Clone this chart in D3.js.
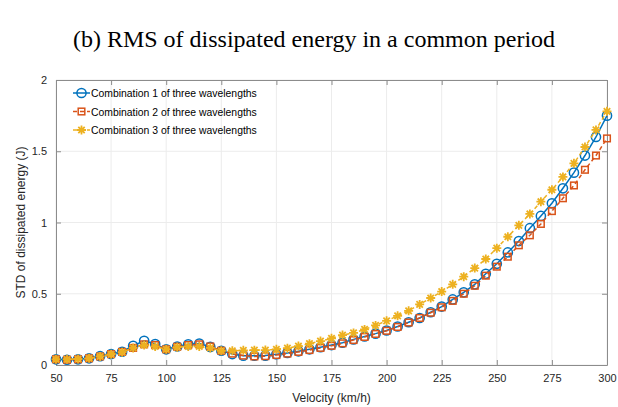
<!DOCTYPE html>
<html>
<head>
<meta charset="utf-8">
<script src="https://cdn.jsdelivr.net/npm/d3@7"></script>
<style>
  body { margin: 0; background: #fff; }
  text { font-family: "Liberation Sans", Arial, sans-serif; }
</style>
</head>
<body>
<div id="chart"></div>
<script>
// data
const velocity = [50, 55, 60, 65, 70, 75, 80, 85, 90, 95, 100, 105, 110, 115, 120, 125, 130, 135, 140, 145,
  150, 155, 160, 165, 170, 175, 180, 185, 190, 195, 200, 205, 210, 215, 220, 225, 230, 235, 240, 245,
  250, 255, 260, 265, 270, 275, 280, 285, 290, 295, 300];

const combo1 = [0.04, 0.037, 0.04, 0.047, 0.062, 0.077, 0.093, 0.135, 0.17, 0.147, 0.11, 0.13, 0.145, 0.15, 0.127,
  0.10, 0.077, 0.065, 0.065, 0.066, 0.075, 0.085, 0.096, 0.11, 0.125, 0.14, 0.156, 0.18, 0.2, 0.22,
  0.242, 0.27, 0.3, 0.33, 0.37, 0.41, 0.46, 0.51, 0.566, 0.64, 0.71, 0.79, 0.87, 0.96, 1.046,
  1.135, 1.24, 1.35, 1.47, 1.6, 1.75];

const combo2 = [0.04, 0.037, 0.04, 0.047, 0.06, 0.076, 0.092, 0.12, 0.145, 0.14, 0.11, 0.128, 0.14, 0.145, 0.13,
  0.10, 0.08, 0.066, 0.06, 0.062, 0.07, 0.08, 0.092, 0.105, 0.12, 0.135, 0.152, 0.175, 0.197, 0.218,
  0.24, 0.267, 0.298, 0.33, 0.367, 0.405, 0.45, 0.5, 0.556, 0.627, 0.69, 0.76, 0.84, 0.91, 0.99,
  1.08, 1.17, 1.26, 1.37, 1.47, 1.59];

const combo3 = [0.04, 0.04, 0.042, 0.047, 0.06, 0.075, 0.09, 0.12, 0.14, 0.13, 0.11, 0.125, 0.13, 0.13, 0.12,
  0.10, 0.10, 0.103, 0.104, 0.105, 0.11, 0.118, 0.133, 0.15, 0.168, 0.187, 0.21, 0.225, 0.25, 0.278,
  0.31, 0.345, 0.38, 0.425, 0.47, 0.515, 0.566, 0.62, 0.68, 0.744, 0.82, 0.9, 0.98, 1.06, 1.146,
  1.23, 1.32, 1.415, 1.53, 1.65, 1.78];

const seriesNames = ["Combination 1 of three wavelengths", "Combination 2 of three wavelengths", "Combination 3 of three wavelengths"];
const xTicks = [50, 75, 100, 125, 150, 175, 200, 225, 250, 275, 300];
const yTicks = [0, 0.5, 1, 1.5, 2];

const W = 618, H = 407;
const margin = {top: 80, right: 11, bottom: 42, left: 56};
const width = W - margin.left - margin.right;
const height = H - margin.top - margin.bottom;

const svg = d3.select("#chart").append("svg")
  .attr("width", W)
  .attr("height", H);

// title
svg.append("text")
  .attr("x", 314)
  .attr("y", 47)
  .attr("text-anchor", "middle")
  .style("font-family", "'Liberation Serif', 'Times New Roman', serif")
  .style("font-size", "24px")
  .attr("fill", "#000")
  .text("(b) RMS of dissipated energy in a common period");

const g = svg.append("g")
  .attr("transform", `translate(${margin.left},${margin.top})`);

const x = d3.scaleLinear().domain([50, 300]).range([0, width]);
const y = d3.scaleLinear().domain([0, 2]).range([height, 0]);

// grid
g.append("g")
  .selectAll("line")
  .data(xTicks)
  .join("line")
    .attr("x1", d => x(d)).attr("x2", d => x(d))
    .attr("y1", 0).attr("y2", height)
    .attr("stroke", "#ececec");
g.append("g")
  .selectAll("line")
  .data(yTicks)
  .join("line")
    .attr("y1", d => y(d)).attr("y2", d => y(d))
    .attr("x1", 0).attr("x2", width)
    .attr("stroke", "#ececec");

// axes (ticks inward, box on)
const axisColor = "#8c8c8c";
function styleAxis(sel, showText) {
  sel.select(".domain").attr("stroke", axisColor);
  sel.selectAll(".tick line").attr("stroke", axisColor);
  sel.selectAll(".tick text")
    .attr("fill", "#262626")
    .style("font-size", "11px")
    .style("display", showText ? null : "none");
}

g.append("g")
  .attr("transform", `translate(0,${height})`)
  .call(d3.axisBottom(x).tickValues(xTicks).tickSizeInner(-5).tickSizeOuter(0).tickPadding(9))
  .call(s => styleAxis(s, true));
g.append("g")
  .call(d3.axisTop(x).tickValues(xTicks).tickSizeInner(-5).tickSizeOuter(0))
  .call(s => styleAxis(s, false));
g.append("g")
  .call(d3.axisLeft(y).tickValues(yTicks).tickFormat(d3.format("")).tickSizeInner(-5).tickSizeOuter(0).tickPadding(9))
  .call(s => styleAxis(s, true));
g.append("g")
  .attr("transform", `translate(${width},0)`)
  .call(d3.axisRight(y).tickValues(yTicks).tickSizeInner(-5).tickSizeOuter(0))
  .call(s => styleAxis(s, false));

// axis labels
svg.append("text")
  .attr("x", margin.left + width / 2)
  .attr("y", 402)
  .attr("text-anchor", "middle")
  .attr("fill", "#262626")
  .style("font-size", "12px")
  .text("Velocity (km/h)");

svg.append("text")
  .attr("transform", `translate(25,${margin.top + height / 2}) rotate(-90)`)
  .attr("text-anchor", "middle")
  .attr("fill", "#262626")
  .style("font-size", "12px")
  .text("STD of dissipated energy (J)");

// series
const colors = ["#0072BD", "#D95319", "#EDB120"];
const dashes = [null, "4 3", "4 3"];
const allSeries = [combo1, combo2, combo3];

const line = d3.line()
  .x(d => x(d[0]))
  .y(d => y(d[1]));

const starPath = "M-4.5,0H4.5M0,-4.5V4.5M-3.2,-3.2L3.2,3.2M-3.2,3.2L3.2,-3.2";

function drawMarker(sel, i) {
  if (i === 0) {
    sel.append("circle").attr("r", 4.6)
      .attr("fill", "none").attr("stroke", colors[0]).attr("stroke-width", 1.5);
  } else if (i === 1) {
    sel.append("rect").attr("x", -3.3).attr("y", -3.3).attr("width", 6.6).attr("height", 6.6)
      .attr("fill", "none").attr("stroke", colors[1]).attr("stroke-width", 1.5);
  } else {
    sel.append("path").attr("d", starPath)
      .attr("fill", "none").attr("stroke", colors[2]).attr("stroke-width", 1.8);
  }
}

allSeries.forEach((vals, i) => {
  const data = velocity.map((v, k) => [v, vals[k]]);
  g.append("path")
    .datum(data)
    .attr("fill", "none")
    .attr("stroke", colors[i])
    .attr("stroke-width", 1.5)
    .attr("stroke-dasharray", dashes[i])
    .attr("d", line);

  g.append("g")
    .selectAll("g")
    .data(data)
    .join("g")
      .attr("transform", d => `translate(${x(d[0])},${y(d[1])})`)
      .each(function () { drawMarker(d3.select(this), i); });
});

// legend
const legend = svg.append("g")
  .attr("transform", "translate(73,93)");

seriesNames.forEach((name, i) => {
  const row = legend.append("g").attr("transform", `translate(0,${i * 18.5})`);
  row.append("line")
    .attr("x1", 0).attr("x2", 17)
    .attr("stroke", colors[i]).attr("stroke-width", 1.5)
    .attr("stroke-dasharray", dashes[i]);
  const m = row.append("g").attr("transform", "translate(8.5,0)");
  drawMarker(m, i);
  row.append("text")
    .attr("x", 18)
    .attr("y", 4)
    .attr("fill", "#000")
    .style("font-size", "10.4px")
    .text(name);
});
</script>
</body>
</html>
